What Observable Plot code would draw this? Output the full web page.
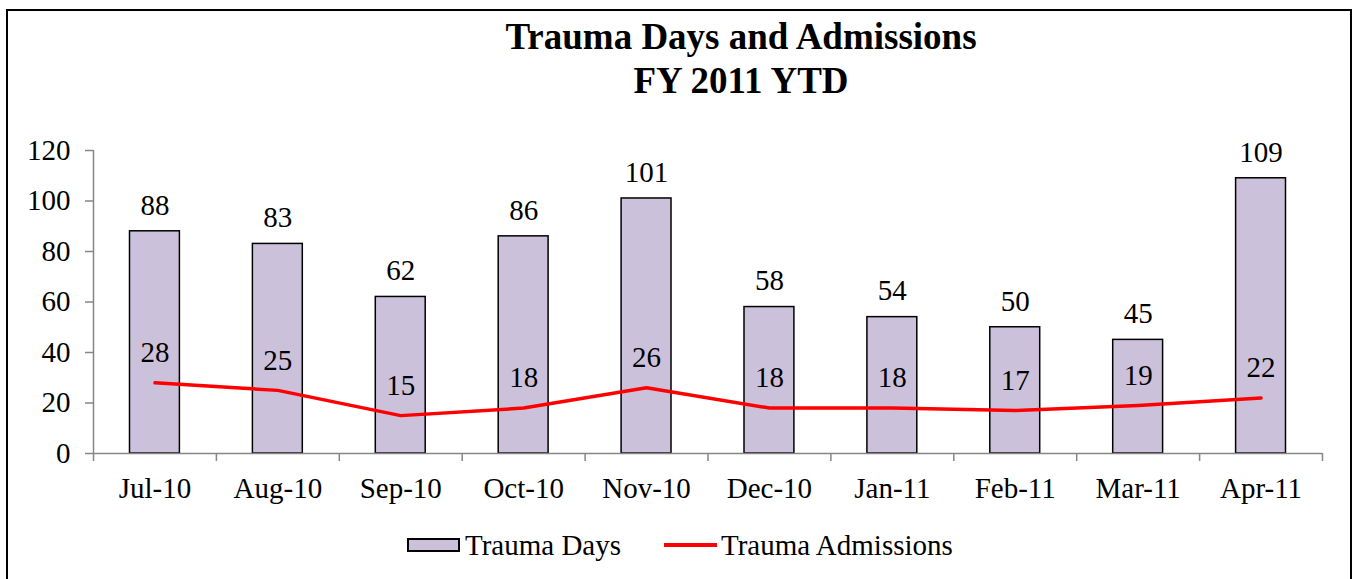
<!DOCTYPE html>
<html>
<head>
<meta charset="utf-8">
<script src="https://cdn.jsdelivr.net/npm/d3@7"></script>
<script src="https://cdn.jsdelivr.net/npm/@observablehq/plot@0.6"></script>
<style>
  html, body { margin: 0; padding: 0; width: 1353px; height: 579px; overflow: hidden; background: #fff; }
  body { font-family: "Liberation Serif", "Times New Roman", serif; position: relative; }
  #frame { position: absolute; left: 6px; top: 9px; width: 1346px; height: 600px; border: 2px solid #000; box-sizing: border-box; }
  #title { position: absolute; left: 741px; top: 15px; transform: translateX(-50%); text-align: center; white-space: nowrap;
           font-weight: bold; font-size: 37px; line-height: 44px; color: #000; }
  #chart { position: absolute; left: 0; top: 115px; }
  #chart svg, #chart svg text { font-family: "Liberation Serif", "Times New Roman", serif !important; }
  #legend { position: absolute; left: 407px; top: 527px; display: flex; align-items: center; font-size: 29px; line-height: 36px; white-space: nowrap; }
  .sw-rect { width: 53px; height: 14px; background: #CCC1DA; border: 2px solid #000; box-sizing: border-box; margin-right: 5px; }
  .sw-line { width: 53px; height: 3.5px; background: #FF0000; margin-left: 43px; margin-right: 4px; }
</style>
</head>
<body>
<div id="frame"></div>
<div id="title">Trauma Days and Admissions<br>FY 2011 YTD</div>
<div id="chart"></div>
<div id="legend">
  <div class="sw-rect"></div><span>Trauma Days</span>
  <div class="sw-line"></div><span>Trauma Admissions</span>
</div>
<script>
const months = ["Jul-10", "Aug-10", "Sep-10", "Oct-10", "Nov-10", "Dec-10", "Jan-11", "Feb-11", "Mar-11", "Apr-11"];
const traumaDays = [88, 83, 62, 86, 101, 58, 54, 50, 45, 109];
const traumaAdmissions = [28, 25, 15, 18, 26, 18, 18, 17, 19, 22];
const yTicks = [0, 20, 40, 60, 80, 100, 120];

const data = months.map((m, i) => ({ i, month: m, days: traumaDays[i], adm: traumaAdmissions[i] }));
const font = "Liberation Serif, Times New Roman, serif";
const gray = "#868686";

const chart = Plot.plot({
  width: 1353,
  height: 400,
  marginTop: 35,
  marginBottom: 62,
  marginLeft: 93,
  marginRight: 31,
  style: { fontFamily: font, fontSize: "29px", color: "#000", background: "transparent" },
  x: { type: "linear", domain: [0, months.length] },
  y: { domain: [0, 120] },
  marks: [
    Plot.rectY(data, { x1: d => d.i, x2: d => d.i + 1, y: "days", insetLeft: 36.5, insetRight: 36.5,
                       fill: "#CCC1DA", stroke: "#000", strokeWidth: 1.5 }),
    Plot.ruleX([0], { y1: 0, y2: 120, stroke: gray, strokeWidth: 1.5 }),
    Plot.ruleY([0], { stroke: gray, strokeWidth: 1.5 }),
    Plot.axisY({ ticks: yTicks, tickSize: 8, tickPadding: 15, stroke: gray, strokeWidth: 1.5,
                 fontSize: 29, fill: "#000", label: null }),
    Plot.axisX({ ticks: d3.range(months.length + 1), tickSize: 8, tickFormat: () => "", stroke: gray, strokeWidth: 1.5, label: null }),
    Plot.axisX({ ticks: d3.range(months.length).map(i => i + 0.5), tickSize: 0, tickPadding: 24,
                 tickFormat: v => months[Math.floor(v)], fontSize: 29, fill: "#000", label: null }),
    Plot.line(data, { x: d => d.i + 0.5, y: "adm", stroke: "#FF0000", strokeWidth: 3.5 }),
    Plot.text(data, { x: d => d.i + 0.5, y: "days", text: d => String(d.days), dy: -26, lineAnchor: "middle",
                      fontSize: 29, fill: "#000" }),
    Plot.text(data, { x: d => d.i + 0.5, y: "adm", text: d => String(d.adm), dy: -30, lineAnchor: "middle",
                      fontSize: 29, fill: "#000" })
  ]
});
document.getElementById("chart").appendChild(chart);
</script>
</body>
</html>
